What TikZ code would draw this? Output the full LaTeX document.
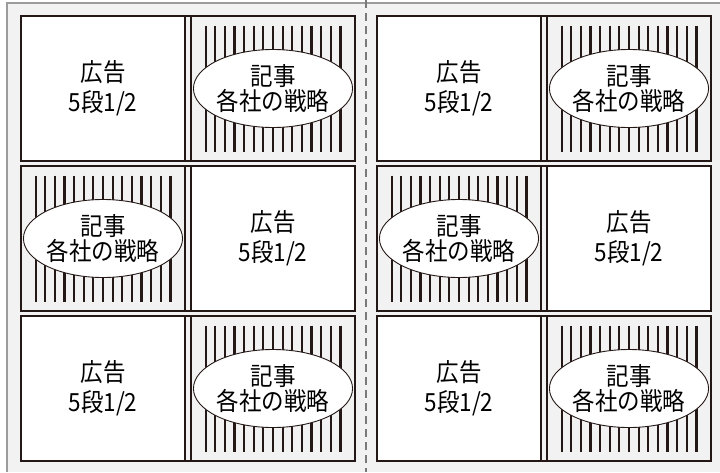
\documentclass[tikz,border=0pt]{standalone}
\usepackage{fontspec}
\setmainfont[FakeStretch=0.9]{Noto Sans CJK JP}
\usetikzlibrary{shapes.geometric}
\definecolor{ink}{HTML}{231815}
\definecolor{paper}{HTML}{F2F2F2}
\definecolor{edge}{HTML}{9C9C9C}
\definecolor{foldline}{HTML}{7A7A7A}

\tikzset{
  rowbox/.style={draw=ink,line width=1.3pt,fill=paper,minimum width=334pt,minimum height=145pt,inner sep=0pt,outer sep=0pt},
  adcell/.style={draw=ink,line width=1.1pt,fill=white,minimum width=164pt,minimum height=145pt,inner sep=0pt,outer sep=0pt,
    align=center,font=\fontsize{25}{30}\selectfont},
  artcell/.style={draw=ink,line width=1.1pt,fill=paper,minimum width=164pt,minimum height=145pt,inner sep=0pt,outer sep=0pt},
  hatch/.style={draw=ink,line width=2.2pt},
  note/.style={ellipse,draw=ink,line width=0.9pt,fill=white,minimum width=146pt,minimum height=78pt,inner sep=0pt,
    align=center,font=\fontsize{25}{24.5}\selectfont},
  fold/.style={draw=foldline,line width=1.1pt,dash pattern=on 8pt off 5pt}
}

\begin{document}
\begin{tikzpicture}[x=1pt,y=-1pt,line join=miter]
\useasboundingbox (0,0) rectangle (720,472);
% sheet
\fill[paper] (7,3) rectangle (720,472);
\draw[edge,line width=1.3pt] (7,472) -- (7,3) -- (720,3);
% fold between the two pages
\coordinate (foldtop) at (366,0);
\coordinate (foldbot) at (366,472);
\draw[fold] (foldtop) -- (foldbot);

% rows: ad on one side, article on the other
\foreach \px/\pn in {21/L,377/R}{
  \foreach \py/\rn/\sw in {16/1/0,166/2/1,316/3/0}{
    \pgfmathsetmacro\cy{\py+72.5}
    \pgfmathsetmacro\adx{\px+82+170*\sw}
    \pgfmathsetmacro\arx{\px+82+170*(1-\sw)}
    \node[rowbox] (row\pn\rn) at (\px+167,\cy) {};
    \node[adcell] (ad\pn\rn) at (\adx,\cy) {広告\\5段1/2};
    \node[artcell] (art\pn\rn) at (\arx,\cy) {};
    \foreach \i in {0,...,14}
      \draw[hatch] ([xshift=14.6pt+\i*9.63pt,yshift=-9.5pt]art\pn\rn.north west) -- ++(0,126);
    \node[note] (note\pn\rn) at (art\pn\rn.center) {記事\\各社の戦略};
  }
}
\end{tikzpicture}
\end{document}
